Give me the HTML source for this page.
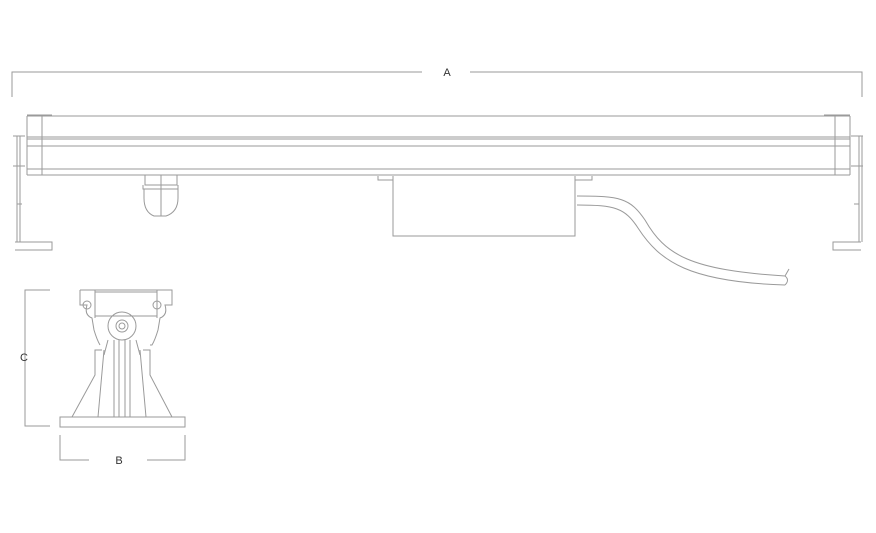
<!DOCTYPE html>
<html><head><style>body{margin:0;background:#fff}svg{display:block}</style></head><body>
<svg width="876" height="533" viewBox="0 0 876 533" xmlns="http://www.w3.org/2000/svg" font-family="Liberation Sans, sans-serif">
<g fill="none" stroke="#9a9a9a" stroke-width="1">
<!-- A dimension -->
<path d="M12 97V72H422M470 72H862V97"/>
<!-- bar -->
<path d="M27 116H850M27 137H850M27 139H850M27 146H850M27 169H850M27 175H850"/>
<path d="M27 116V175M42 116V175M835 116V175M850 116V175"/>
<path d="M27 115H52M824 115H850"/>
<!-- left bracket -->
<path d="M17 136V242M20 136V242M15 242H52V250H15M13 136H25M13 166H25M17 204H22"/>
<!-- right bracket -->
<path d="M859 136V242M862 136V242M861 242H833V250H861M851 136H863M851 166H863M854 204H859"/>
<!-- gland -->
<path d="M145 175V185H177V175M143 185V189H178V185M144 189H178V198Q178 212 166 216H154Q144 212 144 198V189M161 175V216"/>
<!-- driver -->
<path d="M378 176V180H393M575 180H592V176M393 176V236H575V176"/>
<!-- cable -->
<path d="M577 196C620 196 630 198 645 220C665 255 690 270 785 276M577 205C615 205 625 208 638 228C660 262 690 282 785 285M785 276Q790 280 785 285M785 276L789 269"/>
<!-- C dimension -->
<path d="M50 290H25V426H50"/>
<!-- B dimension -->
<path d="M60 435V460H89M147 460H185V435"/>
<!-- side view -->
<path d="M80 290H172V305H165Q168 315 160 318L158 330Q155 340 152 345L150 345M80 290V305H87Q84 315 92 318L94 330Q97 340 100 345"/>
<path d="M95 290V318M157 290V318M95 292H157M95 316H157"/>
<circle cx="87" cy="305" r="4"/><circle cx="157" cy="305" r="4"/>
<circle cx="122" cy="326" r="14"/><circle cx="122" cy="326" r="6"/><circle cx="122" cy="326" r="3"/>
<path d="M60 417H185V427H60Z"/>
<path d="M72 417L95 375V350H102M172 417L150 375V350H143"/>
<path d="M98 417L104 350M146 417L140 350"/>
<path d="M114 340V417M119 340V417M125 340V417M130 340V417"/>
<path d="M108 340L104 355M136 340L140 355"/>
</g>
<g fill="#333" font-size="11" text-anchor="middle">
<text x="447" y="76">A</text>
<text x="24" y="361">C</text>
<text x="119" y="464">B</text>
</g>
</svg>
</body></html>
